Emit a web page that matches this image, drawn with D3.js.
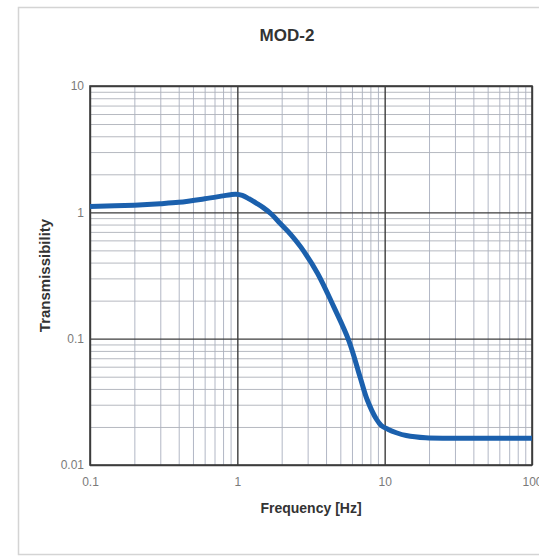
<!DOCTYPE html>
<html>
<head>
<meta charset="utf-8">
<script src="https://cdn.jsdelivr.net/npm/d3@7"></script>
<style>
  body { margin: 0; background: #fff; }
  svg { display: block; font-family: "Liberation Sans", Arial, sans-serif; }
</style>
</head>
<body>
<div id="wrapper"></div>
<script>
// curve (frequency in Hz, transmissibility)
const freq = [0.1, 0.2, 0.3, 0.4, 0.6, 0.8, 0.9, 0.98, 1.08, 1.2, 1.35, 1.5, 1.7, 1.95, 2.3, 2.7, 3.5, 4.5, 5.7, 6.8, 7.6, 8.8, 9.5, 10.5, 12, 14, 19, 30, 50, 100]
const trans = [1.11, 1.14, 1.17, 1.2, 1.28, 1.35, 1.38, 1.39, 1.36, 1.28, 1.18, 1.09, 0.97, 0.82, 0.67, 0.53, 0.33, 0.18, 0.097, 0.05, 0.033, 0.023, 0.0205, 0.0192, 0.018, 0.0171, 0.0164, 0.0163, 0.0163, 0.0163]

const xTicks = [0.1, 1, 10, 100]
const yTicks = [0.01, 0.1, 1, 10]
const xTickLabels = ["0.1", "1", "10", "100"]
const yTickLabels = ["0.01", "0.1", "1", "10"]

const title = "MOD-2"
const xTitle = "Frequency [Hz]"
const yTitle = "Transmissibility"

let dimensions = {
  width: 539,
  height: 556,
  margin: { top: 86, right: 7, bottom: 91, left: 90 }
}
dimensions.boundedWidth = dimensions.width - dimensions.margin.left - dimensions.margin.right
dimensions.boundedHeight = dimensions.height - dimensions.margin.top - dimensions.margin.bottom

const svg = d3.select("#wrapper")
  .append("svg")
  .attr("width", dimensions.width)
  .attr("height", dimensions.height)

// light page frame
svg.append("rect")
  .attr("x", 18.5).attr("y", 7.5)
  .attr("width", 540).attr("height", 547)
  .attr("fill", "none")
  .attr("stroke", "#d4d4d4")
  .attr("stroke-width", 1.5)

const bounds = svg.append("g")
  .attr("transform", `translate(${dimensions.margin.left},${dimensions.margin.top})`)

const xScale = d3.scaleLog()
  .domain([0.1, 100])
  .range([0, dimensions.boundedWidth])

const yScale = d3.scaleLog()
  .domain([0.01, 10])
  .range([dimensions.boundedHeight, 0])

// minor grid, 2..9 in each decade
const minorX = []
const minorY = []
for (let d = 0; d < 3; d++) {
  for (let k = 2; k <= 9; k++) {
    minorX.push(k * xTicks[d])
    minorY.push(k * yTicks[d])
  }
}

bounds.append("g")
  .call(d3.axisBottom(xScale).tickValues(minorX).tickSize(-dimensions.boundedHeight).tickFormat(""))
  .attr("transform", `translate(0,${dimensions.boundedHeight})`)
  .call(g => g.select(".domain").remove())
  .call(g => g.selectAll("line").attr("stroke", "#a9afbe").attr("stroke-width", 0.9))

bounds.append("g")
  .call(d3.axisLeft(yScale).tickValues(minorY).tickSize(-dimensions.boundedWidth).tickFormat(""))
  .call(g => g.select(".domain").remove())
  .call(g => g.selectAll("line").attr("stroke", "#aeb1b9").attr("stroke-width", 0.9))

// major grid with labels
bounds.append("g")
  .call(d3.axisBottom(xScale).tickValues(xTicks).tickSize(-dimensions.boundedHeight)
    .tickFormat((d, i) => xTickLabels[i]).tickPadding(12))
  .attr("transform", `translate(0,${dimensions.boundedHeight})`)
  .call(g => g.select(".domain").remove())
  .call(g => g.selectAll("line").attr("stroke", "#3c3c3c").attr("stroke-width", 1.4))
  .call(g => g.selectAll("text").attr("fill", "#7a7a7a").attr("font-size", "12px")
    .attr("font-family", "'Liberation Sans', Arial, sans-serif"))

bounds.append("g")
  .call(d3.axisLeft(yScale).tickValues(yTicks).tickSize(-dimensions.boundedWidth)
    .tickFormat((d, i) => yTickLabels[i]).tickPadding(6))
  .call(g => g.select(".domain").remove())
  .call(g => g.selectAll("line").attr("stroke", "#3c3c3c").attr("stroke-width", 1.4))
  .call(g => g.selectAll("text").attr("fill", "#7a7a7a").attr("font-size", "12px")
    .attr("font-family", "'Liberation Sans', Arial, sans-serif"))

// plot frame
bounds.append("rect")
  .attr("width", dimensions.boundedWidth)
  .attr("height", dimensions.boundedHeight)
  .attr("fill", "none")
  .attr("stroke", "#3c3c3c")
  .attr("stroke-width", 1.6)

const points = freq.map((f, i) => ({ f, t: trans[i] }))

const lineGen = d3.line()
  .x(d => xScale(d.f))
  .y(d => yScale(d.t))
  .curve(d3.curveCatmullRom.alpha(0.5))

bounds.append("path")
  .datum(points)
  .attr("d", lineGen)
  .attr("fill", "none")
  .attr("stroke", "#1b60ad")
  .attr("stroke-width", 5)
  .attr("stroke-linejoin", "round")
  .attr("stroke-linecap", "butt")

// titles
svg.append("text")
  .attr("x", 287)
  .attr("y", 41)
  .attr("text-anchor", "middle")
  .attr("font-size", "17px")
  .attr("font-weight", "bold")
  .attr("fill", "#333")
  .text(title)

svg.append("text")
  .attr("x", dimensions.margin.left + dimensions.boundedWidth / 2)
  .attr("y", 513)
  .attr("text-anchor", "middle")
  .attr("font-size", "14px")
  .attr("font-weight", "bold")
  .attr("fill", "#333")
  .text(xTitle)

svg.append("text")
  .attr("transform", `translate(50,${dimensions.margin.top + dimensions.boundedHeight / 2}) rotate(-90)`)
  .attr("text-anchor", "middle")
  .attr("font-size", "15px")
  .attr("font-weight", "bold")
  .attr("fill", "#333")
  .text(yTitle)
</script>
</body>
</html>
